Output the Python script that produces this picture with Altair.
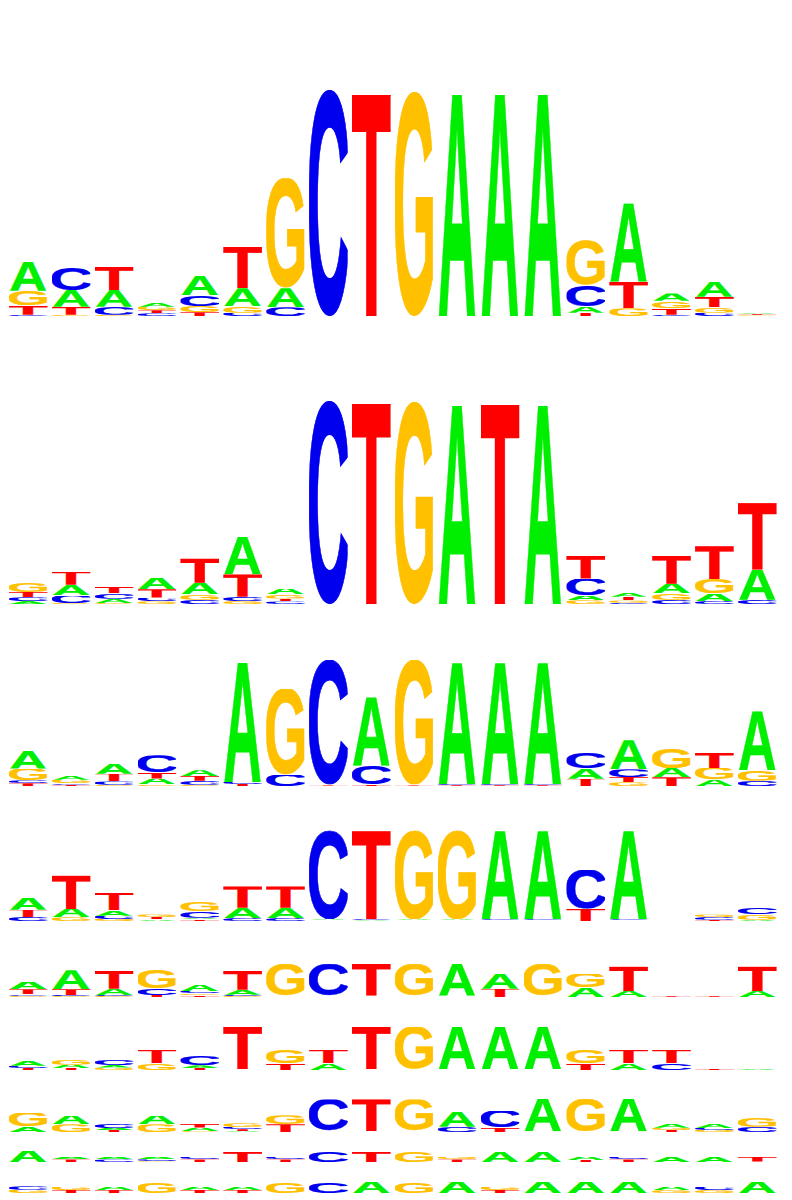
import base64
import pandas as pd
import altair as alt

# letter heights for each logo row, one dict per column
row1 = [
    {"A": 29, "G": 15, "T": 9, "C": 1.3},
    {"C": 22.7, "A": 16.7, "T": 8, "G": 1.3},
    {"T": 23.3, "A": 16.7, "C": 8, "G": 1.3},
    {"A": 4, "G": 3.5, "T": 3, "C": 2.8},
    {"A": 19, "C": 11, "G": 6.3, "T": 3.7},
    {"T": 41.7, "A": 17.7, "G": 6.7, "C": 3.3},
    {"G": 110, "A": 19, "C": 8.7},
    {"C": 226},
    {"T": 221},
    {"G": 224},
    {"A": 221},
    {"A": 221},
    {"A": 221},
    {"G": 45, "C": 21, "A": 6.7, "T": 3.3},
    {"A": 78.3, "T": 26.7, "G": 7.7},
    {"A": 7.4, "G": 7.1, "T": 6.8, "C": 1.3},
    {"A": 15, "T": 10.7, "G": 5.3, "C": 3.3},
    {"A": 1.2, "T": 1.0, "G": 0.8, "C": 0.4},
]
row2 = [
    {"G": 9.3, "T": 5.3, "C": 3.7, "A": 3},
    {"T": 13.3, "A": 10.7, "C": 7.5, "G": 1},
    {"T": 6.7, "C": 5.7, "A": 4.3, "G": 1},
    {"A": 11.3, "T": 8.3, "C": 3.7, "G": 2.7},
    {"T": 24.7, "A": 11.3, "G": 5.7, "C": 4.3},
    {"A": 37.3, "T": 22.3, "C": 4.3, "G": 3},
    {"A": 5.7, "G": 4.3, "T": 2.8, "C": 2.6},
    {"C": 203},
    {"T": 200},
    {"G": 202},
    {"A": 198},
    {"T": 199},
    {"A": 198},
    {"T": 23.3, "C": 17, "A": 4.7, "G": 3.7},
    {"A": 4.3, "T": 3.7, "G": 2.3, "C": 1.3},
    {"T": 27.7, "A": 9.7, "G": 6.3, "C": 4.3},
    {"T": 32.7, "G": 14.7, "A": 7.3, "C": 3},
    {"T": 66.7, "A": 30, "C": 4.3},
]
row3 = [
    {"A": 18.3, "G": 11.7, "C": 3, "T": 2.7},
    {"A": 3.7, "G": 3.6, "C": 1.4, "T": 1.3},
    {"A": 10.7, "T": 7.7, "C": 3.3, "G": 1.3},
    {"C": 16.7, "T": 6.7, "A": 5.7, "G": 1.7},
    {"A": 5.7, "T": 4.7, "C": 4, "G": 1.3},
    {"A": 119.3, "C": 2.1, "T": 1.9},
    {"G": 86, "C": 11.3},
    {"C": 125, "G": 0.7, "T": 0.6},
    {"A": 68.3, "C": 19, "T": 1.3},
    {"G": 125, "A": 0.8, "T": 0.6},
    {"A": 121, "C": 0.9, "T": 0.8},
    {"A": 121, "C": 0.9, "T": 0.8},
    {"A": 121, "C": 0.9, "T": 0.8},
    {"C": 16, "A": 10.7, "T": 7.3},
    {"A": 29, "C": 7.7, "T": 5.3, "G": 3.7},
    {"G": 19.3, "A": 9.3, "T": 8.7},
    {"T": 15.3, "G": 11.3, "A": 6.7},
    {"A": 59, "G": 10.3, "C": 5.3},
]
row4 = [
    {"A": 12, "T": 7.3, "C": 4},
    {"T": 33.7, "A": 8.3, "G": 3.7},
    {"T": 17.3, "A": 5.3, "C": 3.3, "G": 2},
    {"G": 2.7, "T": 2.3, "A": 1.7},
    {"G": 9, "C": 6.7, "A": 1.7, "T": 1.6},
    {"T": 21.3, "A": 10.3, "C": 3},
    {"T": 21.3, "A": 10.3, "C": 3},
    {"C": 89, "A": 0.7, "G": 0.6, "T": 0.5},
    {"T": 88, "C": 0.7, "A": 0.6, "G": 0.5},
    {"G": 89, "A": 0.7, "C": 0.6, "T": 0.5},
    {"G": 89, "A": 0.7, "C": 0.6, "T": 0.5},
    {"A": 88, "C": 0.7, "G": 0.6, "T": 0.5},
    {"A": 88, "C": 0.7, "G": 0.6, "T": 0.5},
    {"C": 39, "T": 12.3},
    {"A": 88, "C": 0.7, "G": 0.6, "T": 0.5},
    {},
    {"G": 2.7, "C": 2.6, "T": 1.3},
    {"C": 6.7, "G": 5.3, "A": 1.3},
]
row5 = [
    {"A": 7.3, "T": 5, "C": 1.4, "G": 1.3},
    {"A": 19, "T": 5.7, "C": 1.1, "G": 1},
    {"T": 18.3, "A": 6.3, "C": 1, "G": 0.9},
    {"G": 19, "C": 6.3, "T": 2},
    {"A": 6.5, "C": 2.6, "G": 1.8, "T": 1.7},
    {"T": 19.3, "A": 5, "C": 1.2, "G": 1.1},
    {"G": 31.5, "A": 0.6, "C": 0.5, "T": 0.4},
    {"C": 31.5, "G": 0.6, "A": 0.5, "T": 0.4},
    {"T": 31.5, "C": 0.6, "A": 0.5, "G": 0.4},
    {"G": 31.5, "A": 0.6, "C": 0.5, "T": 0.4},
    {"A": 32, "C": 0.6, "T": 0.5, "G": 0.4},
    {"A": 15, "T": 8.3},
    {"G": 31.5, "A": 0.6, "C": 0.5, "T": 0.4},
    {"G": 14, "A": 9.3},
    {"T": 24.7, "A": 6},
    {"T": 1, "A": 0.3},
    {"T": 1, "A": 0.3},
    {"T": 24.7, "A": 6},
]
row6 = [
    {"A": 5, "C": 2.3, "T": 2},
    {"G": 4.7, "A": 3.3, "T": 2},
    {"C": 5.3, "A": 2.6, "G": 2.5},
    {"T": 13.3, "G": 6.7},
    {"C": 9.7, "A": 2.7, "T": 2},
    {"T": 42, "A": 0.4, "C": 0.35, "G": 0.3},
    {"G": 13.3, "T": 6.7},
    {"T": 13.3, "A": 6.7},
    {"T": 42, "A": 0.4, "C": 0.35, "G": 0.3},
    {"G": 42, "A": 0.4, "C": 0.35, "T": 0.3},
    {"A": 42, "C": 0.4, "G": 0.35, "T": 0.3},
    {"A": 42, "C": 0.4, "G": 0.35, "T": 0.3},
    {"A": 42, "C": 0.4, "G": 0.35, "T": 0.3},
    {"G": 13.3, "T": 6.7},
    {"T": 13.3, "A": 6.7},
    {"T": 13.3, "C": 6.7},
    {"T": 1},
    {"A": 1},
]
row7 = [
    {"G": 14, "A": 5.3},
    {"A": 8.3, "G": 7.7},
    {"C": 4.3, "A": 2, "T": 1.9},
    {"A": 8.3, "G": 7.7},
    {"T": 4.3, "A": 3.7, "G": 0.7},
    {"G": 3.7, "C": 2.3, "T": 2, "A": 0.7},
    {"G": 9, "T": 7.7},
    {"C": 31.5, "A": 0.4, "G": 0.35, "T": 0.3},
    {"T": 31.5, "A": 0.4, "C": 0.35, "G": 0.3},
    {"G": 31.5, "A": 0.4, "C": 0.35, "T": 0.3},
    {"A": 15.7, "C": 5.3},
    {"C": 16.7, "T": 4.3},
    {"A": 32.5, "C": 0.4, "T": 0.3},
    {"G": 32.5, "A": 0.4, "T": 0.3},
    {"A": 32.5, "C": 0.4, "T": 0.3},
    {"A": 4.3, "G": 2.3, "T": 2},
    {"A": 4.3, "C": 2.1, "G": 2},
    {"G": 9, "C": 5.3},
]
row8 = [
    {"A": 11},
    {"A": 2.7, "T": 2.6},
    {"A": 2.7, "C": 2.6},
    {"A": 2.7, "C": 2, "G": 0.6},
    {"C": 2.7, "T": 2.6},
    {"T": 10},
    {"C": 2.7, "T": 2.6},
    {"C": 10},
    {"T": 10},
    {"G": 10},
    {"G": 2.7, "T": 2.6},
    {"A": 10},
    {"A": 10},
    {"A": 3.3, "T": 2},
    {"C": 2.7, "T": 2.6},
    {"A": 5.3},
    {"A": 5.3},
    {"T": 4.5, "A": 0.5},
]
row9 = [
    {"C": 3.5, "G": 3.3},
    {"G": 3.3, "T": 3},
    {"A": 3.3, "T": 3},
    {"G": 11},
    {"A": 3.3, "T": 3},
    {"A": 3.3, "T": 3},
    {"G": 11},
    {"C": 11},
    {"A": 11},
    {"G": 11},
    {"A": 11},
    {"G": 3.3, "T": 3},
    {"A": 11},
    {"A": 11},
    {"A": 11},
    {"A": 3.3, "G": 3},
    {"C": 3.3, "G": 3},
    {"A": 11},
]
rows = [row1, row2, row3, row4, row5, row6, row7, row8, row9]

# height of each logo band in the page
row_heights = [308, 288, 182, 135, 76, 73, 62, 30, 31]

colors = {"A": "#00ee00", "C": "#0000ee", "G": "#ffc000", "T": "#ff0000"}
# glyph box (x, y, w, h) of Liberation Sans Bold at size 100
boxes = {
    "A": (0, -68.8, 72.2, 68.8),
    "C": (4.5, -70.1, 63.5, 71.4),
    "G": (4.3, -70.1, 68.5, 71.4),
    "T": (2.2, -68.8, 56.7, 68.8),
}


def glyph(base):
    x, y, w, h = boxes[base]
    svg = (
        '<svg xmlns="http://www.w3.org/2000/svg" width="%g" height="%g" '
        'viewBox="%g %g %g %g" preserveAspectRatio="none">'
        '<text x="0" y="0" font-family="Liberation Sans, Arial, sans-serif" '
        'font-weight="bold" font-size="100" fill="%s" stroke="%s" '
        'stroke-width="0.7" vector-effect="non-scaling-stroke">%s</text></svg>'
        % (w, h, x, y, w, h, colors[base], colors[base], base)
    )
    return "data:image/svg+xml;base64," + base64.b64encode(svg.encode()).decode()


glyphs = pd.DataFrame({"base": list("ACGT"), "url": [glyph(b) for b in "ACGT"]})


def logo(cols, band):
    recs = [
        {"pos": i + 1, "base": b, "h": v}
        for i, col in enumerate(cols)
        for b, v in col.items()
    ]
    df = pd.DataFrame(recs)
    return alt.Chart(df).transform_stack(
        stack="h",
        groupby=["pos"],
        sort=[alt.SortField("h", order="ascending")],
        as_=["y0", "y1"],
    ).transform_lookup(
        lookup="base",
        from_=alt.LookupData(glyphs, "base", ["url"]),
    ).transform_calculate(
        xa="datum.pos - 0.95",
        xb="datum.pos - 0.05",
    ).mark_image(aspect=False).encode(
        x=alt.X("xa:Q", scale=alt.Scale(domain=[0.03, 18.03], nice=False, zero=False), axis=None),
        x2="xb:Q",
        y=alt.Y("y0:Q", scale=alt.Scale(domain=[0, band], nice=False, zero=False), axis=None),
        y2="y1:Q",
        url="url:N",
    ).properties(width=772, height=band)


chart = alt.vconcat(
    *[logo(r, b) for r, b in zip(rows, row_heights)], spacing=0
).properties(padding=0).configure_view(stroke=None)

chart.save("out.html", embed_options={"renderer": "svg", "actions": False})
